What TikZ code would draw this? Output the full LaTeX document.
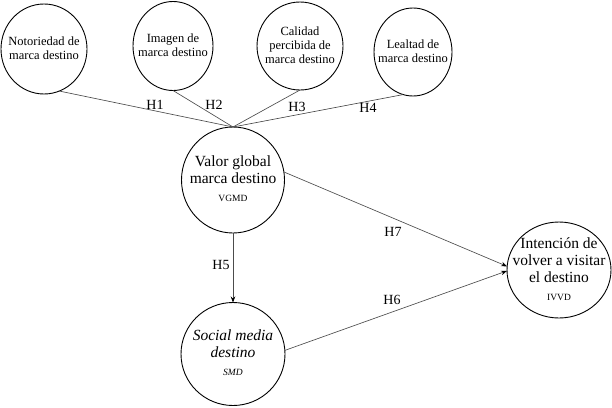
\documentclass[tikz,border=0pt]{standalone}
\usepackage{fontspec}
\setmainfont{Liberation Serif}
\usetikzlibrary{shapes.geometric,arrows.meta}
\newcommand\ctext[1]{\makebox[0pt]{\raisebox{-0.28em}[0pt][0pt]{\begin{tabular}{@{}c@{}}#1\end{tabular}}}}
\newcommand\abbrf{\fontsize{9.5}{10}\selectfont}
\begin{document}
\begin{tikzpicture}[x=1pt,y=-1pt,
  circ/.style={ellipse,draw=black,line width=0.9pt,inner sep=0pt,outer sep=0pt},
  smallc/.style={circ,font=\fontsize{12.5}{14}\selectfont},
  bigc/.style={circ,font=\fontsize{15.5}{17}\selectfont},
  conn/.style={draw=black!70,line width=0.65pt},
  arr/.style={conn,-{Stealth[length=6pt,width=4.5pt,black]}},
  hlab/.style={font=\fontsize{14}{14}\selectfont,inner sep=0pt}]
\useasboundingbox (0,0) rectangle (612,407);
\node[smallc,minimum width=86pt,minimum height=90pt] (n1) at (44,49) {\ctext{Notoriedad de\\marca destino}};
\node[smallc,minimum width=80pt,minimum height=89pt] (n2) at (173,46) {\ctext{Imagen de\\marca destino}};
\node[smallc,minimum width=86pt,minimum height=88pt] (n3) at (300,46) {\ctext{Calidad\\percibida de\\marca destino}};
\node[smallc,minimum width=78pt,minimum height=88pt] (n4) at (413,52) {\ctext{Lealtad de\\marca destino}};
\node[bigc,minimum width=103pt,minimum height=106pt] (v) at (233,180) {\ctext{Valor global\\marca destino\\[1pt]{\abbrf VGMD}}};
\node[bigc,minimum width=104pt,minimum height=103pt] (s) at (233,354) {\ctext{\itshape Social media\\\itshape destino\\[1pt]{\abbrf\itshape SMD}}};
\node[bigc,minimum width=104pt,minimum height=96pt] (i) at (559,270) {\ctext{Intención de\\volver a visitar\\el destino\\[1pt]{\abbrf IVVD}}};
\draw[conn] (n1.-70) -- (v.north);
\draw[conn] (n2.south) -- (v.north);
\draw[conn] (n3.south) -- (v.north);
\draw[conn] (n4.-103) -- (v.north);
\draw[arr] (v.south) -- (s.north);
\draw[arr] (v.9) -- (i.176);
\draw[arr] (s.4) -- (i.181);
\node[hlab] (h1) at (155,105) {H1};
\node[hlab] (h2) at (214,105) {H2};
\node[hlab] (h3) at (297,107) {H3};
\node[hlab] (h4) at (368,108) {H4};
\node[hlab] (h5) at (221,265) {H5};
\node[hlab] (h7) at (393,232) {H7};
\node[hlab] (h6) at (392,300) {H6};
\end{tikzpicture}
\end{document}
